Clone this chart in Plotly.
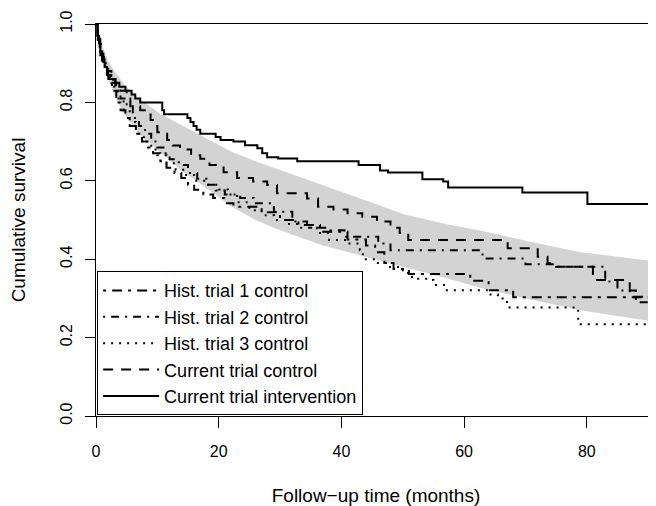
import plotly.graph_objects as go

# confidence band (grey) for the pooled historical controls
band_t = [0, 0.5, 1, 2, 3, 4.6, 7, 10.6, 14, 17.7, 22, 26, 30, 37, 44, 50, 57, 63, 70, 79, 92]
band_lower = [1.0, 0.94, 0.91, 0.86, 0.82, 0.77, 0.72, 0.67, 0.625, 0.585, 0.535, 0.50,
              0.474, 0.435, 0.405, 0.381, 0.352, 0.326, 0.30, 0.27, 0.238]
band_upper = [1.0, 0.965, 0.945, 0.905, 0.88, 0.845, 0.81, 0.77, 0.742, 0.71, 0.675, 0.65,
              0.628, 0.589, 0.55, 0.515, 0.49, 0.472, 0.447, 0.418, 0.393]

# Kaplan-Meier step curves
t_hist1 = [0, 0.3, 0.6, 1.0, 1.5, 2.0, 2.6, 3.3, 4.0, 4.8, 5.5, 6.5, 7.5, 8.5, 9.3, 10.5, 11.5,
           12.8, 13.9, 15.0, 16.0, 17.5, 19.1, 20.9, 22.4, 27.0, 30.0, 33.0, 36.5, 41.0, 44.0,
           45.5, 47.0, 48.5, 51.0, 61.0, 64.0, 68.0, 92]
s_hist1 = [1.0, 0.96, 0.93, 0.90, 0.88, 0.86, 0.83, 0.80, 0.78, 0.76, 0.74, 0.72, 0.70, 0.685,
           0.67, 0.65, 0.633, 0.62, 0.607, 0.59, 0.577, 0.565, 0.556, 0.543, 0.534, 0.52, 0.50,
           0.487, 0.47, 0.45, 0.435, 0.418, 0.39, 0.375, 0.362, 0.345, 0.321, 0.303, 0.303]

t_hist2 = [0, 0.3, 0.7, 1.2, 1.8, 2.5, 3.2, 4.0, 5.0, 6.0, 7.0, 8.0, 9.0, 10.0, 11.0, 12.0, 13.5,
           15.0, 16.5, 18.0, 19.5, 21.0, 23.5, 25.7, 29.0, 32.0, 34.4, 38.2, 40.5, 46.0, 48.0,
           63.0, 70.0, 75.0, 83.0, 85.0, 88.0, 92]
s_hist2 = [1.0, 0.95, 0.92, 0.89, 0.87, 0.85, 0.83, 0.81, 0.79, 0.76, 0.74, 0.72, 0.70, 0.685,
           0.67, 0.655, 0.64, 0.62, 0.605, 0.59, 0.575, 0.565, 0.556, 0.543, 0.521, 0.496, 0.48,
           0.474, 0.457, 0.44, 0.423, 0.402, 0.387, 0.381, 0.343, 0.32, 0.29, 0.29]

t_hist3 = [0, 0.3, 0.8, 1.3, 2.0, 2.8, 3.5, 4.5, 5.5, 6.5, 7.8, 9.0, 10.0, 11.5, 13.0, 14.5, 16.0,
           18.0, 20.0, 21.5, 23.0, 25.0, 27.0, 29.0, 31.0, 33.0, 36.0, 38.0, 41.0, 43.0, 43.5,
           45.5, 47.5, 50.0, 51.5, 54.0, 55.0, 57.0, 64.0, 65.5, 67.0, 78.6, 92]
s_hist3 = [1.0, 0.96, 0.93, 0.90, 0.87, 0.84, 0.81, 0.78, 0.75, 0.72, 0.70, 0.68, 0.665, 0.645,
           0.628, 0.615, 0.60, 0.59, 0.578, 0.565, 0.545, 0.525, 0.512, 0.50, 0.49, 0.48, 0.467,
           0.449, 0.44, 0.423, 0.40, 0.39, 0.38, 0.365, 0.35, 0.347, 0.334, 0.321, 0.31, 0.30,
           0.277, 0.234, 0.234]

t_ctrl = [0, 0.3, 0.7, 1.2, 1.8, 2.5, 3.2, 4.0, 5.0, 5.6, 7.2, 8.9, 9.5, 10.0, 11.6, 12.5, 13.7,
          15.5, 17.0, 18.5, 20.8, 23.0, 25.6, 27.9, 29.5, 34.4, 36.2, 38.7, 41.0, 43.4, 45.8,
          48.0, 49.5, 50.9, 67.1, 72.0, 73.6, 75.0, 81.0, 87.0, 92]
s_ctrl = [1.0, 0.97, 0.93, 0.90, 0.88, 0.86, 0.845, 0.83, 0.81, 0.79, 0.78, 0.755, 0.74, 0.724,
          0.704, 0.69, 0.68, 0.665, 0.656, 0.64, 0.622, 0.607, 0.598, 0.589, 0.568, 0.555, 0.534,
          0.527, 0.517, 0.508, 0.496, 0.48, 0.467, 0.449, 0.428, 0.406, 0.39, 0.381, 0.347,
          0.304, 0.304]

t_int = [0, 0.2, 0.5, 0.7, 1.0, 1.4, 1.8, 2.3, 3.1, 3.8, 4.8, 5.8, 6.4, 7.2, 10.8, 11.1, 14.9,
         15.4, 15.9, 16.4, 17.0, 19.5, 20.3, 22.4, 24.3, 26.3, 27.1, 27.9, 29.7, 32.8, 42.8,
         46.3, 47.6, 53.2, 56.6, 57.4, 69.5, 80.1, 92]
s_int = [1.0, 0.97, 0.95, 0.93, 0.91, 0.89, 0.87, 0.86, 0.85, 0.84, 0.83, 0.82, 0.81, 0.80,
         0.78, 0.77, 0.76, 0.75, 0.74, 0.73, 0.72, 0.712, 0.704, 0.70, 0.691, 0.683, 0.67,
         0.66, 0.657, 0.650, 0.640, 0.626, 0.621, 0.604, 0.598, 0.583, 0.570, 0.541, 0.541]

y_ticks = [0, 0.2, 0.4, 0.6, 0.8, 1.0]
y_ticklabels = ['0.0', '0.2', '0.4', '0.6', '0.8', '1.0']
x_ticks = [0, 20, 40, 60, 80]

FONT = 'Liberation Sans, Arial, sans-serif'

fig = go.Figure()
fig.add_trace(go.Scatter(x=band_t, y=band_lower, mode='lines', line=dict(width=0),
                         showlegend=False, hoverinfo='skip'))
fig.add_trace(go.Scatter(x=band_t, y=band_upper, mode='lines', line=dict(width=0),
                         fill='tonexty', fillcolor='#D3D3D3', showlegend=False,
                         hoverinfo='skip'))

curves = [
    (t_hist1, s_hist1, 'Hist. trial 1 control', '3px,6px,10px,6px'),
    (t_hist2, s_hist2, 'Hist. trial 2 control', '2px,6px,8px,6px'),
    (t_hist3, s_hist3, 'Hist. trial 3 control', '2px,6px'),
    (t_ctrl, s_ctrl, 'Current trial control', '10px,8px'),
    (t_int, s_int, 'Current trial intervention', 'solid'),
]
for t, s, name, dash in curves:
    fig.add_trace(go.Scatter(x=t, y=s, mode='lines', name=name, line_shape='hv',
                             line=dict(color='black', width=2, dash=dash)))

# the page body adds an 8px offset, so the figure is 8px smaller than the window
fig.update_layout(
    width=648, height=498,
    margin=dict(l=88, r=0, t=16, b=90),
    paper_bgcolor='white', plot_bgcolor='white',
    font=dict(family=FONT, size=16, color='black'),
    legend=dict(x=0.002, y=0.002, xanchor='left', yanchor='bottom', bgcolor='white',
                bordercolor='black', borderwidth=1, font=dict(size=18),
                tracegroupgap=0, traceorder='normal', itemwidth=56),
)
fig.update_xaxes(range=[0, 91.28], tickvals=x_ticks, ticks='outside', ticklen=11,
                 tickcolor='black', showline=True, linecolor='black', linewidth=1,
                 mirror=True, showgrid=False, zeroline=False, automargin=False,
                 ticklabelstandoff=10,
                 title=dict(text='Follow\u2212up time (months)', standoff=30))
fig.update_yaxes(range=[0, 1], tickvals=y_ticks, ticktext=y_ticklabels, tickangle=-90,
                 ticks='outside', ticklen=10, tickcolor='black', showline=True,
                 linecolor='black', linewidth=1, showgrid=False, zeroline=False,
                 automargin=False, ticklabelstandoff=7,
                 title=dict(text='Cumulative survival', standoff=30))

fig.write_html('out.html')
